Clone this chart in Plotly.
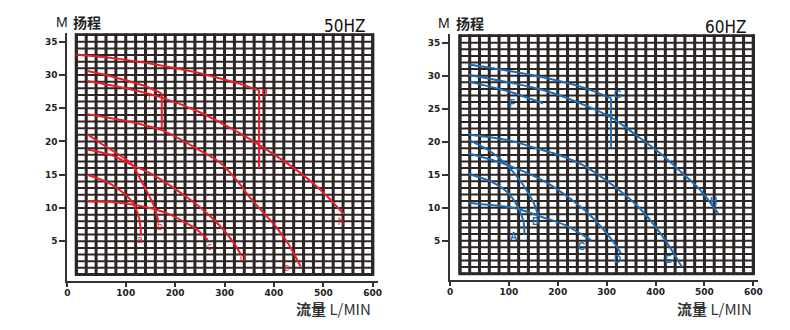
import plotly.graph_objects as go

# ---------------- data : 50HZ (flow L/MIN, head M) ----------------
a50_x = [22, 70, 109, 126, 131]
a50_y = [15.0, 13.6, 11.3, 8.8, 5.9]
b50_x = [22, 50, 80, 112, 132, 145, 157, 164, 167]
b50_y = [21.1, 19.7, 18.3, 16.6, 14.0, 12.2, 10.3, 8.6, 7.8]
c50_x = [22, 70, 106, 130, 159, 190, 216, 245, 266]
c50_y = [11.0, 10.9, 10.6, 10.3, 9.8, 9.0, 8.0, 6.7, 5.2]
d50_x = [22, 69, 109, 150, 183, 226, 260, 297, 320, 333]
d50_y = [18.8, 18.0, 16.6, 15.2, 13.7, 11.5, 9.5, 6.8, 4.6, 3.0]
e50_x = [22, 100, 173, 249, 293, 330, 350, 380, 404, 430, 454]
e50_y = [24.1, 23.1, 21.7, 18.7, 16.7, 13.7, 11.7, 9.2, 7.2, 4.5, 1.2]
f50_x = [22, 60, 100, 140, 173]
f50_y = [30.6, 30.0, 29.2, 28.3, 27.2]
f50_drop_x = [173, 173]
f50_drop_y = [27.2, 22.0]
g50_x = [0, 80, 166, 230, 280, 330, 370]
g50_y = [33.1, 32.5, 31.5, 30.6, 29.7, 28.7, 27.7]
g50_drop_x = [370, 370]
g50_drop_y = [27.7, 16.0]
h50_x = [22, 100, 173, 250, 320, 370, 427, 470, 510, 541]
h50_y = [29.1, 28.0, 26.6, 24.4, 21.7, 19.5, 16.7, 14.3, 11.6, 9.1]
labels50 = ["a", "b", "c", "d", "e", "f", "g", "h"]
labels50_x = [129, 169, 270, 337, 427, 148, 382, 536]
labels50_y = [5.2, 7.2, 4.2, 2.5, 1.0, 26.6, 27.5, 7.9]

# ---------------- data : 60HZ ----------------
a60_x = [18, 65, 99, 120, 130, 132]
a60_y = [15.1, 13.9, 12.2, 9.9, 7.9, 5.9]
b60_x = [20, 59, 93, 127, 151, 160]
b60_y = [20.2, 18.7, 16.7, 13.7, 10.7, 8.9]
c60_x = [18, 113, 167, 214, 268]
c60_y = [10.7, 9.9, 8.6, 7.4, 5.1]
d60_x = [18, 96, 180, 262, 316, 329]
d60_y = [18.2, 16.5, 13.7, 9.15, 4.6, 3.1]
e60_x = [18, 100, 170, 201, 245, 316, 371, 410, 437, 454]
e60_y = [21.1, 20.2, 18.7, 18.0, 16.7, 13.2, 9.65, 6.1, 3.1, 1.0]
f60_x = [18, 100, 170]
f60_y = [29.1, 27.6, 25.8]
g60_x = [18, 147, 248, 309]
g60_y = [31.7, 30.1, 28.3, 26.6]
g60_drop_x = [309, 309]
g60_drop_y = [26.6, 19.1]
h60_x = [18, 180, 309, 360, 410, 451, 490, 528]
h60_y = [30.1, 27.6, 23.7, 21.0, 18.2, 15.5, 12.8, 9.15]
labels60 = ["A", "B", "C", "D", "E", "F", "G", "H"]
labels60_x = [109, 155, 248, 322, 427, 106, 324, 518]
labels60_y = [5.7, 7.9, 4.1, 2.2, 2.1, 25.8, 27.2, 10.9]

x_ticktext = ["0", "100", "200", "300", "400", "500", "600"]
x_label_vals = [100, 200, 300, 400, 500, 600]
y_tickvals = [5, 10, 15, 20, 25, 30, 35]
x_grid_step = 20   # L/MIN per grid column
x_grid_max = 600
y_grid_step = 1    # M per grid row
y_grid_max = 36

GRID = "#2e2525"
RED = "#ee1c25"
BLUE = "#1b6db6"
AX = "#333333"
W, H = 790, 330

fig = go.Figure()

def add_lines(xs, ys, color, xa, ya, spline=True):
    fig.add_trace(go.Scatter(x=xs, y=ys, mode="lines", xaxis=xa, yaxis=ya,
                             line=dict(color=color, width=2,
                                       shape="spline" if spline else "linear",
                                       smoothing=0.8),
                             hoverinfo="skip"))

for xs, ys in [(a50_x, a50_y), (b50_x, b50_y), (c50_x, c50_y), (d50_x, d50_y),
               (e50_x, e50_y), (f50_x, f50_y), (g50_x, g50_y), (h50_x, h50_y)]:
    add_lines(xs, ys, RED, "x", "y")
for xs, ys in [(f50_drop_x, f50_drop_y), (g50_drop_x, g50_drop_y)]:
    add_lines(xs, ys, RED, "x", "y", spline=False)

for xs, ys in [(a60_x, a60_y), (b60_x, b60_y), (c60_x, c60_y), (d60_x, d60_y),
               (e60_x, e60_y), (f60_x, f60_y), (g60_x, g60_y), (h60_x, h60_y)]:
    add_lines(xs, ys, BLUE, "x2", "y2")
add_lines(g60_drop_x, g60_drop_y, BLUE, "x2", "y2", spline=False)

panels = [
    dict(xn="xaxis", yn="yaxis", xr="x", yr="y",
         xdom=(65, 378), ydom=(33.3, 281), xrange=(-18.06, 610), yrange=(-0.98, 36.27)),
    dict(xn="xaxis2", yn="yaxis2", xr="x2", yr="y2",
         xdom=(451, 762), ydom=(34.3, 280), xrange=(-20.3, 610), yrange=(-0.955, 36.27)),
]

tickfont = dict(family="DejaVu Sans", size=9, color="#222", weight="bold")
shapes = []
layout_axes = {}
for p in panels:
    x0 = p["xrange"][0]
    ytop = p["yrange"][1]
    layout_axes[p["xn"]] = dict(
        domain=[p["xdom"][0] / W, p["xdom"][1] / W], range=list(p["xrange"]),
        anchor=p["yr"], showline=True, linecolor=AX, linewidth=2,
        ticks="outside", ticklen=4, tickwidth=1.5, tickcolor=AX,
        tickmode="array", tickvals=[x0] + x_label_vals, ticktext=x_ticktext,
        tickfont=tickfont, ticklabelstandoff=-2,
        showgrid=False, zeroline=False, fixedrange=True)
    layout_axes[p["yn"]] = dict(
        domain=[1 - p["ydom"][1] / H, 1 - p["ydom"][0] / H], range=list(p["yrange"]),
        anchor=p["xr"], showline=True, linecolor=AX, linewidth=2,
        ticks="outside", ticklen=6, tickwidth=1.5, tickcolor=AX,
        tickmode="array", tickvals=y_tickvals, tickfont=tickfont,
        showgrid=False, zeroline=False, fixedrange=True)
    # grid drawn in data coordinates
    for gx in range(0, x_grid_max + 1, x_grid_step):
        shapes.append(dict(type="line", xref=p["xr"], yref=p["yr"], x0=gx, x1=gx,
                           y0=0, y1=ytop, line=dict(color=GRID, width=3), layer="below"))
    for gy in range(0, y_grid_max + 1, y_grid_step):
        shapes.append(dict(type="line", xref=p["xr"], yref=p["yr"], x0=0, x1=x_grid_max,
                           y0=gy, y1=gy, line=dict(color=GRID, width=2), layer="below"))
    shapes.append(dict(type="rect", xref=p["xr"], yref=p["yr"], x0=0, x1=x_grid_max,
                       y0=0, y1=ytop, line=dict(color=GRID, width=3), layer="below"))

annotations = []
for lab, lx, ly in zip(labels50, labels50_x, labels50_y):
    annotations.append(dict(text=lab, x=lx, y=ly, xref="x", yref="y", showarrow=False,
                            font=dict(family="Liberation Sans", size=10, color=RED)))
for lab, lx, ly in zip(labels60, labels60_x, labels60_y):
    annotations.append(dict(text=lab, x=lx, y=ly, xref="x2", yref="y2", showarrow=False,
                            font=dict(family="Liberation Sans", size=10, color=BLUE,
                                      weight="bold")))

def txt(text, px, py, size, family, xanchor="left", weight="normal", color="#222"):
    annotations.append(dict(text=text, x=px / W, y=1 - py / H, xref="paper", yref="paper",
                            xanchor=xanchor, yanchor="middle", showarrow=False,
                            font=dict(family=family, size=size, color=color, weight=weight)))

CJK = "Noto Sans CJK SC"
NARROW = "Liberation Sans Narrow, DejaVu Sans Condensed, Liberation Sans"
for (mx, cx, hzx, hz, ty, fx) in [(51, 69, 367, "50HZ", 22, 373), (437, 455, 752, "60HZ", 23, 758)]:
    txt("M", mx, ty, 14, "Liberation Sans")
    txt("<b>扬程</b>", cx, ty, 14, CJK)
    txt(hz, hzx, ty + 4, 17, NARROW, xanchor="right", color="#111")
    txt("<b>流量</b> L/MIN", fx, 308, 15, CJK + ", Liberation Sans", xanchor="right", color="#333")

fig.update_layout(width=W, height=H, margin=dict(l=0, r=0, t=0, b=0),
                  paper_bgcolor="white", plot_bgcolor="white", showlegend=False,
                  shapes=shapes, annotations=annotations, **layout_axes)

fig.write_html("out.html")
